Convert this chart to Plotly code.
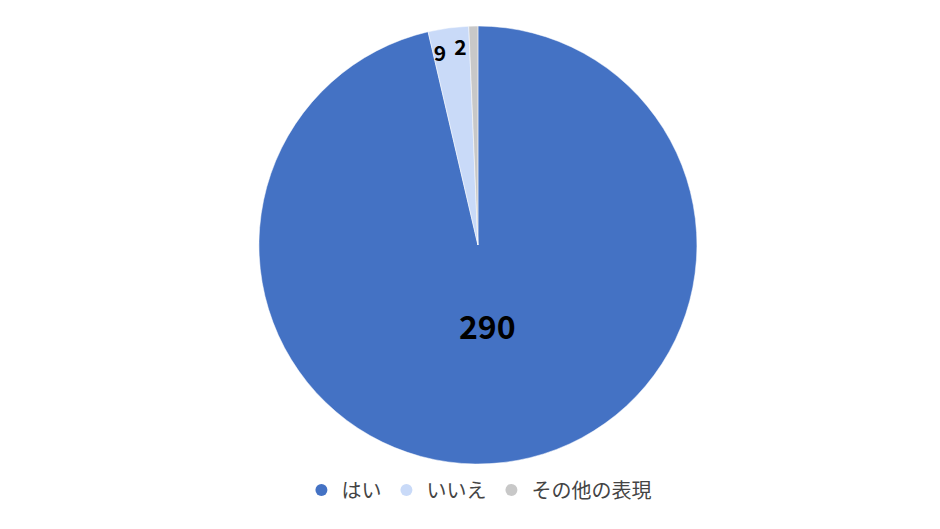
import plotly.graph_objects as go

# Data
labels = ['はい', 'いいえ', 'その他の表現']
values = [290, 9, 2]
colors = ['#4472C4', '#C9DAF8', '#C8C8C8']

font_name = 'Noto Sans CJK JP'
W, H = 940, 529
# pie centre / radius in figure pixels (page body adds an 8px margin)
cx, cy, R = 462, 237, 219


def dom(r):
    # domain of a pie of radius r sharing the same centre
    yc = (H - cy) / H
    return dict(x=[0, 2 * cx / W], y=[yc - r / H, yc + r / H])


fig = go.Figure()

# main pie, no text
fig.add_trace(go.Pie(
    labels=labels,
    values=values,
    sort=False,
    direction='clockwise',
    rotation=0,
    marker=dict(colors=colors, line=dict(color='white', width=0.5)),
    textinfo='none',
    domain=dom(R),
    showlegend=False,
    hoverinfo='label+value',
))

clear = ['rgba(0,0,0,0)'] * 3

# big label: inside text of a smaller transparent pie
fig.add_trace(go.Pie(
    labels=labels, values=values, sort=False, direction='clockwise', rotation=0,
    marker=dict(colors=clear, line=dict(width=0)),
    text=[str(values[0]), '', ''],
    textinfo='text',
    textposition='inside',
    insidetextorientation='horizontal',
    textfont=dict(family=font_name, size=32, color='black', weight='bold'),
    domain=dom(0.74 * R),
    showlegend=False,
    hoverinfo='skip',
))

# small labels: outside text of smaller transparent pies, one per label
for i, rr in [(1, 0.82), (2, 0.84)]:
    txt = [''] * 3
    txt[i] = str(values[i])
    fig.add_trace(go.Pie(
        labels=labels, values=values, sort=False, direction='clockwise', rotation=0,
        marker=dict(colors=clear, line=dict(width=0)),
        text=txt,
        textinfo='text',
        textposition='outside',
        textfont=dict(family=font_name, size=21, color='black', weight='bold'),
        domain=dom(rr * R),
        showlegend=False,
        hoverinfo='skip',
    ))

# legend entries with round markers
for name, color in zip(labels, colors):
    fig.add_trace(go.Scatter(
        x=[None], y=[None],
        mode='markers',
        name=name,
        marker=dict(symbol='circle', size=15, color=color),
    ))

fig.update_xaxes(visible=False)
fig.update_yaxes(visible=False)

fig.update_layout(
    width=W,
    height=H,
    margin=dict(l=0, r=0, t=0, b=0),
    paper_bgcolor='white',
    plot_bgcolor='white',
    font=dict(family=font_name, color='#444444'),
    legend=dict(
        orientation='h',
        x=0.493, xanchor='center',
        y=0.089, yanchor='middle',
        font=dict(size=20, color='#444444'),
        itemsizing='constant',
    ),
)

fig.write_html('out.html')
